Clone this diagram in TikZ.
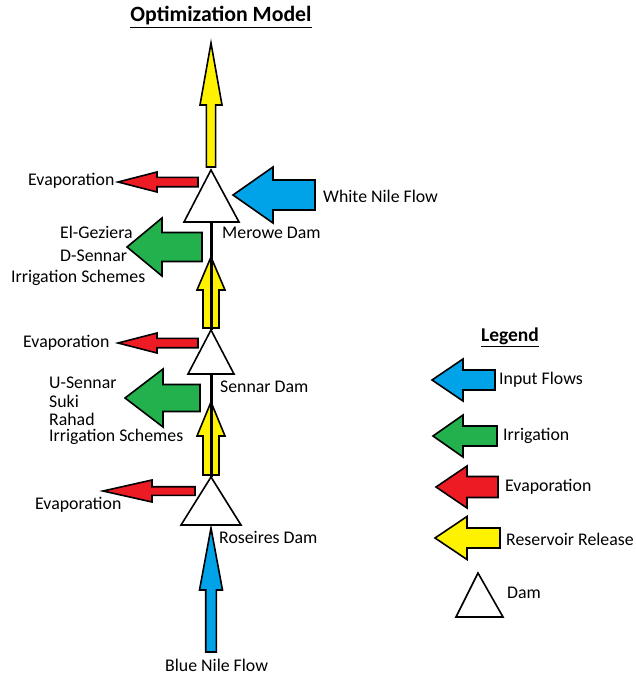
\documentclass[tikz,border=0pt]{standalone}
\usepackage{fontspec}
\setmainfont{Carlito}
\definecolor{cblue}{RGB}{0,162,232}
\definecolor{cgreen}{RGB}{34,177,76}
\definecolor{cred}{RGB}{237,28,36}
\definecolor{cyellow}{RGB}{255,242,0}
\newcommand{\leftblock}[7]{% color, tipx, tipy, headbase x, head half, shaft half, tail x
  \draw[blockarrow, fill=#1] (#2,#3) -- (#4,{#3-#5}) -- (#4,{#3-#6}) -- (#7,{#3-#6}) -- (#7,{#3+#6}) -- (#4,{#3+#6}) -- (#4,{#3+#5}) -- cycle;}
\newcommand{\upblock}[7]{% color, x, tipy, headbase y, head half, shaft half, tail y
  \draw[blockarrow, fill=#1] (#2,#3) -- ({#2+#5},#4) -- ({#2+#6},#4) -- ({#2+#6},#7) -- ({#2-#6},#7) -- ({#2-#6},#4) -- ({#2-#5},#4) -- cycle;}
\begin{document}
\begin{tikzpicture}[x=1pt,y=-1pt,
  blockarrow/.style={draw=black, line width=1.6pt, line join=miter},
  damshape/.style={draw=black, fill=white, line width=1.6pt},
  link/.style={draw=black, line width=3pt},
  lbl/.style={inner sep=0pt, anchor=west, font=\fontsize{17.8}{21}\selectfont},
  ttl/.style={inner sep=0pt, font=\fontsize{21.8}{25}\selectfont\bfseries},
  legttl/.style={inner sep=0pt, font=\fontsize{19.5}{23}\selectfont\bfseries}]
\useasboundingbox (0,0) rectangle (636,675);
% title
\node[ttl] (title) at (221,17) {\underline{Optimization Model}};
% dams
\coordinate (mA) at (211,170);
\coordinate (mL) at (184,222);
\coordinate (mR) at (239,222);
\coordinate (mB) at (211,222);
\coordinate (sA) at (211,330);
\coordinate (sL) at (188,374);
\coordinate (sR) at (234,374);
\coordinate (sB) at (211,374);
\coordinate (rA) at (211,477);
\coordinate (rL) at (181,525);
\coordinate (rR) at (241,525);
\coordinate (rB) at (211,525);
% top release
\upblock{cyellow}{211}{43}{105}{11}{4.6}{167}
% Merowe area
\leftblock{cred}{118}{182}{157}{10}{4.7}{198}
\leftblock{cblue}{233}{195}{273}{28}{15}{315}
\leftblock{cgreen}{127}{247}{162}{29}{14.5}{202}
\upblock{cyellow}{211}{257}{290}{14}{8}{328}
\draw[link] (mB) -- (sA);
\draw[damshape] (mA) -- (mR) -- (mL) -- cycle;
% Sennar area
\leftblock{cred}{118}{343}{157}{10}{4.7}{198}
\leftblock{cgreen}{125}{398}{163}{29}{13.5}{200}
\upblock{cyellow}{211}{402}{436}{14}{8}{475}
\draw[link] (sB) -- (rA);
\draw[damshape] (sA) -- (sR) -- (sL) -- cycle;
% Roseires area
\leftblock{cred}{103}{491}{152}{11}{4.3}{195}
\upblock{cblue}{211}{528}{590}{11.5}{5.3}{652}
\draw[damshape] (rA) -- (rR) -- (rL) -- cycle;
% labels
\node[lbl] (ev1) at (28,181) {Evaporation};
\node[lbl] (wn) at (323,196) {White Nile Flow};
\node[lbl] (md) at (222,233) {Merowe Dam};
\node[lbl] (g1) at (60,232) {El-Geziera};
\node[lbl] (g2) at (60,256) {D-Sennar};
\node[lbl] (g3) at (11,278) {Irrigation Schemes};
\node[lbl] (ev2) at (23,343) {Evaporation};
\node[lbl] (sd) at (220,387) {Sennar Dam};
\node[lbl] (u1) at (49,383) {U-Sennar};
\node[lbl] (u2) at (49,401) {Suki};
\node[lbl] (u3) at (49,419) {Rahad};
\node[lbl] (u4) at (49,437) {Irrigation Schemes};
\node[lbl] (ev3) at (35,505) {Evaporation};
\node[lbl] (rd) at (219,537) {Roseires Dam};
\node[lbl] (bn) at (165,665) {Blue Nile Flow};
% legend
\node[legttl] (leg) at (510,337) {\underline{Legend}};
\leftblock{cblue}{432}{380}{463}{21}{10}{495}
\leftblock{cgreen}{433}{436}{463}{21}{10}{497}
\leftblock{cred}{436}{487}{467}{21}{10.5}{498}
\leftblock{cyellow}{435}{538}{467}{21.5}{10}{500}
\draw[damshape] (478,573) -- (503,617) -- (456,617) -- cycle;
\node[lbl] (l1) at (499,380) {Input Flows};
\node[lbl] (l2) at (503,436) {Irrigation};
\node[lbl] (l3) at (505,487) {Evaporation};
\node[lbl] (l4) at (506,539) {Reservoir Release};
\node[lbl] (l5) at (507,593) {Dam};
\end{tikzpicture}
\end{document}
